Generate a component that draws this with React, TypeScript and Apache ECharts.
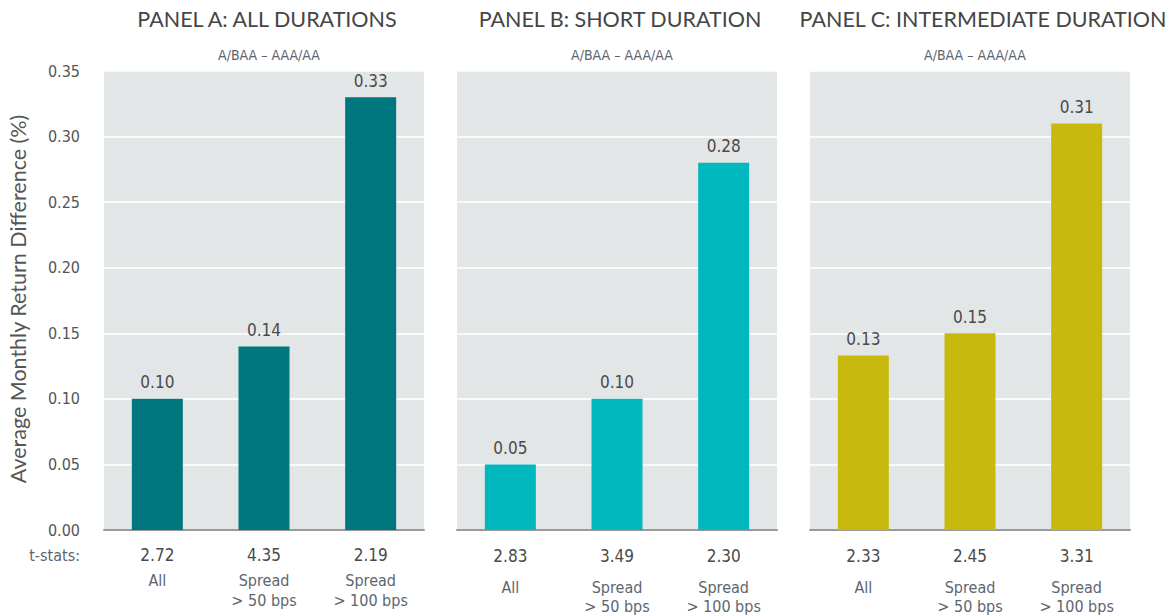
import React, { useEffect, useRef } from "react";
import * as echarts from "echarts";

const panelTitles = ["PANEL A: ALL DURATIONS", "PANEL B: SHORT DURATION", "PANEL C: INTERMEDIATE DURATION"];
const panelSubtitle = "A/BAA – AAA/AA";
const categories = ["All", "Spread\n> 50 bps", "Spread\n> 100 bps"];
const panelAValues = [0.10, 0.14, 0.33];
const panelBValues = [0.05, 0.10, 0.28];
const panelCValues = [0.133, 0.15, 0.31];
const panelATStats = ["2.72", "4.35", "2.19"];
const panelBTStats = ["2.83", "3.49", "2.30"];
const panelCTStats = ["2.33", "2.45", "3.31"];
const yTicks = { min: 0, max: 0.35, interval: 0.05 };
const yAxisTitle = "Average Monthly Return Difference (%)";
const tStatsLabel = "t-stats:";

const colors = ["#00767f", "#00b8bd", "#c8b90f"];
const NARROW = '"Liberation Sans Narrow", "DejaVu Sans Condensed", sans-serif';
const SANS = 'Lato, "Noto Sans", sans-serif';

export default function App() {
  const ref = useRef<HTMLDivElement>(null);
  useEffect(() => {
    document.body.style.margin = "0";
    const chart = echarts.init(ref.current!, null, { renderer: "svg" });
    const values = [panelAValues, panelBValues, panelCValues];
    const tstats = [panelATStats, panelBTStats, panelCTStats];
    const lefts = [104, 457, 810];
    const titleCenters = [262, 615, 978];
    const subCenters = [264, 617, 970];
    const labelGeom = [
      { m: 10, h1: 30, h2: 20 },
      { m: 3, h1: 45, h2: 19 },
      { m: 3, h1: 45, h2: 19 },
    ];
    const option: any = {
      animation: false,
      backgroundColor: "#ffffff",
      title: [
        ...panelTitles.map((t, i) => ({
          text: t,
          left: titleCenters[i],
          top: 3,
          textAlign: "center",
          textStyle: { fontFamily: SANS, fontSize: 21.5, fontWeight: "normal", color: "#454545" },
        })),
        ...panelTitles.map((_, i) => ({
          text: panelSubtitle,
          left: subCenters[i],
          top: 43,
          textAlign: "center",
          textStyle: { fontFamily: NARROW, fontSize: 14, fontWeight: "normal", color: "#5c6670" },
        })),
      ],
      grid: lefts.map((l) => ({
        left: l,
        width: 320,
        top: 71,
        height: 459,
        show: true,
        backgroundColor: "#e3e6e7",
        borderWidth: 0,
      })),
      xAxis: lefts.map((_, i) => ({
        type: "category",
        gridIndex: i,
        data: categories.map((c, j) => {
          const parts = c.split("\n");
          return `{t|${tstats[i][j]}}\n` + parts.map((p) => `{c|${p}}`).join("\n");
        }),
        axisLine: { show: true, lineStyle: { color: "#9a9a9a", width: 2 } },
        axisTick: { show: false },
        axisLabel: {
          interval: 0,
          margin: labelGeom[i].m,
          rich: {
            t: { fontFamily: NARROW, fontSize: 17, color: "#4a4a4a", lineHeight: labelGeom[i].h1 },
            c: { fontFamily: NARROW, fontSize: 16, color: "#5c6670", lineHeight: labelGeom[i].h2 },
          },
        },
      })),
      yAxis: lefts.map((_, i) => ({
        type: "value",
        gridIndex: i,
        min: yTicks.min,
        max: yTicks.max,
        interval: yTicks.interval,
        axisLine: { show: false },
        axisTick: { show: false },
        splitLine: { show: true, lineStyle: { color: "#ffffff", width: 1.5 } },
        axisLabel: {
          show: i === 0,
          margin: 24,
          fontFamily: NARROW,
          fontSize: 16,
          color: "#555555",
          formatter: (v: number) => v.toFixed(2),
        },
      })),
      series: values.map((vals, i) => ({
        type: "bar",
        xAxisIndex: i,
        yAxisIndex: i,
        data: vals,
        barWidth: 51,
        itemStyle: { color: colors[i] },
        label: {
          show: true,
          position: "top",
          distance: 8,
          fontFamily: NARROW,
          fontSize: 17,
          color: "#4a4a4a",
          formatter: (p: any) => Number(p.value).toFixed(2),
        },
      })),
      graphic: [
        {
          type: "text",
          x: 18,
          y: 299,
          rotation: Math.PI / 2,
          style: {
            text: yAxisTitle,
            fontFamily: SANS,
            fontSize: 21.5,
            fill: "#555555",
            align: "center",
            verticalAlign: "middle",
          },
        },
        {
          type: "text",
          x: 80,
          y: 555,
          style: {
            text: tStatsLabel,
            fontFamily: NARROW,
            fontSize: 16,
            fill: "#5c6670",
            align: "right",
            verticalAlign: "middle",
          },
        },
      ],
    };
    chart.setOption(option);
    return () => chart.dispose();
  }, []);
  return <div ref={ref} style={{ width: 1170, height: 616, position: "absolute", left: 0, top: 0 }} />;
}
